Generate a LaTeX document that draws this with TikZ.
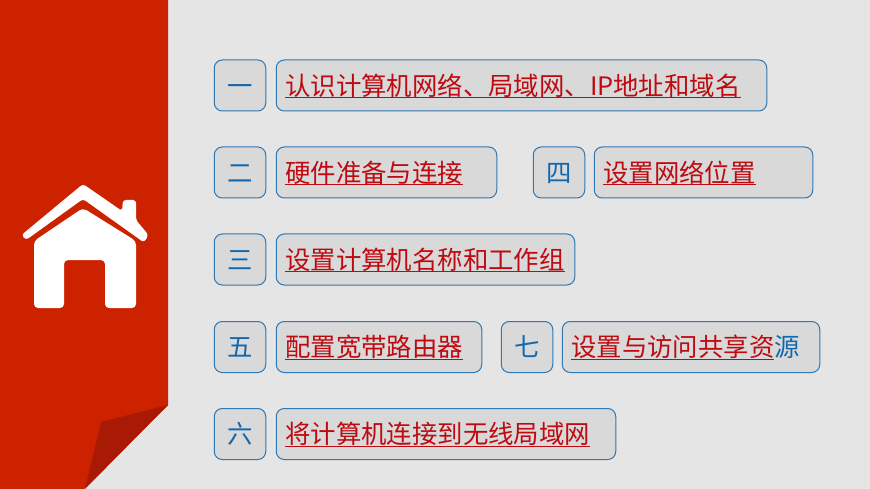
\documentclass[tikz,border=0pt]{standalone}
\usepackage{fontspec}
\usepackage{xcolor}
\usepackage{tikz}
\usetikzlibrary{positioning}
\newfontfamily\cjk{Noto Sans CJK SC}
\definecolor{pagegray}{HTML}{E5E5E5}
\definecolor{boxgray}{HTML}{D9D9D9}
\definecolor{ribbonred}{HTML}{CC2200}
\definecolor{foldred}{HTML}{A81A04}
\definecolor{linkred}{HTML}{BE0A10}
\definecolor{numblue}{HTML}{1268AE}
\definecolor{edgeblue}{HTML}{2E78B4}
\newcommand{\linktext}[1]{{\color{linkred}\setbox0=\hbox{#1}\rlap{\raisebox{-3.3pt}{\rule{\wd0}{1.4pt}}}\box0}}
\tikzset{
  numbox/.style={draw=edgeblue, fill=boxgray, line width=1pt, rounded corners=8pt,
    minimum width=51.5pt, minimum height=51pt, inner sep=0pt, text=numblue,
    text height=22pt, text depth=2.7pt,
    font=\cjk\fontsize{25.4}{30}\selectfont},
  linkbox/.style={draw=edgeblue, fill=boxgray, line width=1pt, rounded corners=8pt,
    minimum height=51pt, inner xsep=9pt, inner ysep=0pt, text width=#1-18pt, align=left,
    text height=22pt, text depth=2.7pt,
    font=\cjk\fontsize{25.4}{30}\selectfont}
}
\begin{document}
\begin{tikzpicture}[x=1pt, y=-1pt]
\useasboundingbox (0,0) rectangle (870,489);
\fill[pagegray] (0,0) rectangle (870,489);
\fill[ribbonred] (0,0) -- (168,0) -- (168,405) -- (84,489) -- (0,489) -- cycle;
\fill[foldred] (168,405) -- (101,422) -- (85,489) -- cycle;
\fill[white, rounded corners=3pt] (21.5,235) -- (83,184) -- (122,211) -- (123,200) -- (136,200)
  -- (136,220) -- (148.5,235) -- (144,242.5) -- (83,199) -- (26,240) -- cycle;
\fill[white, rounded corners=4pt] (83,208) -- (34,241) -- (34,308) -- (64,308) -- (64,260)
  -- (105,260) -- (105,308) -- (136,308) -- (136,241) -- cycle;
\node[numbox] (num1) at (240,85.5) {一};
\node[linkbox=490.5pt, right=9.5pt of num1] (link1) {\linktext{认识计算机网络、局域网、IP地址和域名}};
\node[numbox] (num2) at (240,172.5) {二};
\node[linkbox=220.5pt, right=9.5pt of num2] (link2) {\linktext{硬件准备与连接}};
\node[numbox] (num4) at (559,172.5) {四};
\node[linkbox=218.5pt, right=8.5pt of num4] (link4) {\linktext{设置网络位置}};
\node[numbox] (num3) at (240,259.5) {三};
\node[linkbox=298.5pt, right=9.5pt of num3] (link3) {\linktext{设置计算机名称和工作组}};
\node[numbox] (num5) at (240,347) {五};
\node[linkbox=205.5pt, right=9.5pt of num5] (link5) {\linktext{配置宽带路由器}};
\node[numbox] (num7) at (527,347) {七};
\node[linkbox=257.5pt, right=8.5pt of num7] (link7) {\linktext{设置与访问共享资}{\color{numblue}源}};
\node[numbox] (num6) at (240,434) {六};
\node[linkbox=339.5pt, right=9.5pt of num6] (link6) {\linktext{将计算机连接到无线局域网}};
\end{tikzpicture}
\end{document}
